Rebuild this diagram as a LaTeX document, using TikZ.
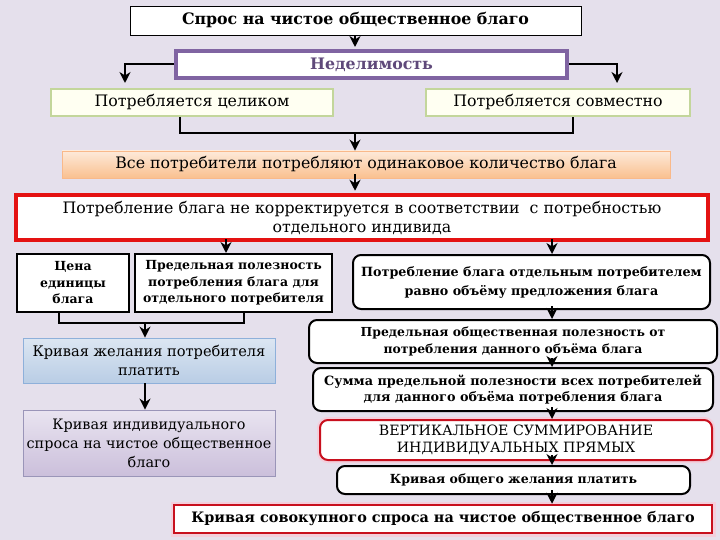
\documentclass[tikz,border=0pt]{standalone}
\usepackage{fontspec}
\setmainfont{DejaVu Serif}
\usetikzlibrary{arrows.meta}
\definecolor{bg}{HTML}{E5E0EC}
\definecolor{purp}{HTML}{8064A2}
\definecolor{purptext}{HTML}{5F497A}
\definecolor{olive}{HTML}{C3D69B}
\definecolor{ivory}{HTML}{FFFFF2}
\definecolor{orL}{HTML}{FDEADA}
\definecolor{orD}{HTML}{FAC08F}
\definecolor{orB}{HTML}{F9B98A}
\definecolor{blL}{HTML}{DCE6F2}
\definecolor{blD}{HTML}{B9CDE5}
\definecolor{blB}{HTML}{8EB0DA}
\definecolor{puL}{HTML}{E9E4F0}
\definecolor{puD}{HTML}{CBBFDB}
\definecolor{puB}{HTML}{9A95B8}
\definecolor{redB}{HTML}{E41212}
\definecolor{redD}{HTML}{C8101E}
\definecolor{glow}{HTML}{F3CFDC}
\tikzset{
  boxbase/.style={align=center, inner sep=1pt, text=black},
  plainbox/.style={boxbase, draw=black, line width=0.8pt, fill=white},
  purpbox/.style={boxbase, draw=purp, line width=4pt, fill=white, text=purptext},
  ivorybox/.style={boxbase, draw=olive, line width=2pt, fill=ivory},
  orangebox/.style={boxbase, draw=orB, line width=0.8pt, top color=orL, bottom color=orD},
  redbox/.style={boxbase, draw=redB, line width=4.5pt, fill=white},
  sqbox/.style={boxbase, draw=black, line width=2pt, fill=white},
  roundbox/.style={boxbase, draw=black, line width=2pt, fill=white, rounded corners=8pt},
  redround/.style={boxbase, draw=redD, line width=2pt, fill=white, rounded corners=8pt, preaction={draw=glow, line width=6pt}},
  redsq/.style={boxbase, draw=redD, line width=2.5pt, fill=white, preaction={draw=glow, line width=7pt}},
  bluebox/.style={boxbase, draw=blB, line width=0.8pt, top color=blL, bottom color=blD},
  lilabox/.style={boxbase, draw=puB, line width=0.8pt, top color=puL, bottom color=puD},
  arr/.style={line width=2pt, -{Stealth[length=11pt,width=11pt]}},
  bracket/.style={line width=1.6pt},
}
\begin{document}
\begin{tikzpicture}[x=1pt,y=-1pt]
\path[use as bounding box, fill=bg] (0,0) rectangle (720,540);

% top part
\node[plainbox, font=\bfseries\fontsize{15.8}{18}\selectfont, minimum width=451pt, minimum height=29pt] (top) at (355.5,20.5) {Спрос на чистое общественное благо};
\node[purpbox, font=\bfseries\fontsize{15.8}{18}\selectfont, minimum width=391pt, minimum height=27pt] (nedel) at (371.5,64.5) {Неделимость};
\node[ivorybox, font=\fontsize{15.8}{18}\selectfont, minimum width=282pt, minimum height=27pt] (celikom) at (192,102.5) {Потребляется целиком};
\node[ivorybox, font=\fontsize{15.8}{18}\selectfont, minimum width=264pt, minimum height=27pt] (sovm) at (558,102.5) {Потребляется совместно};
\node[orangebox, font=\fontsize{15.8}{18}\selectfont, minimum width=608pt, minimum height=27pt] (vse) at (366,164.5) {Все потребители потребляют одинаковое количество блага};
\node[redbox, font=\fontsize{15.8}{19}\selectfont, minimum width=692pt, minimum height=45pt] (red) at (362,217.5) {Потребление блага не корректируется в соответствии \ с потребностью\\отдельного индивида};

% left column
\node[sqbox, font=\bfseries\fontsize{12.5}{16.5}\selectfont, minimum width=112pt, minimum height=58pt] (cena) at (73,283) {Цена\\единицы\\блага};
\node[sqbox, font=\bfseries\fontsize{12.5}{16.5}\selectfont, minimum width=197pt, minimum height=58pt] (predp) at (233.5,283) {Предельная полезность\\потребления блага для\\отдельного потребителя};
\node[bluebox, font=\fontsize{14.6}{19}\selectfont, minimum width=252pt, minimum height=45pt] (zhel) at (149,360.5) {Кривая желания потребителя\\платить};
\node[lilabox, font=\fontsize{14.4}{19}\selectfont, minimum width=252pt, minimum height=66pt] (indiv) at (149,443) {Кривая индивидуального\\спроса на чистое общественное\\благо};

% right column
\node[roundbox, font=\bfseries\fontsize{12.7}{19}\selectfont, minimum width=357pt, minimum height=54pt] (potr) at (531.5,282) {Потребление блага отдельным потребителем\\равно объёму предложения блага};
\node[roundbox, font=\bfseries\fontsize{12.4}{17}\selectfont, minimum width=408pt, minimum height=43pt] (obsch) at (513,341.5) {Предельная общественная полезность от\\потребления данного объёма блага};
\node[roundbox, font=\bfseries\fontsize{12.8}{16}\selectfont, minimum width=400pt, minimum height=43pt] (summa) at (513,389.5) {Сумма предельной полезности всех потребителей\\для данного объёма потребления блага};
\node[redround, font=\fontsize{14.2}{17}\selectfont, minimum width=392pt, minimum height=40pt] (vert) at (516,440) {ВЕРТИКАЛЬНОЕ СУММИРОВАНИЕ\\ИНДИВИДУАЛЬНЫХ ПРЯМЫХ};
\node[roundbox, font=\bfseries\fontsize{12.5}{14}\selectfont, minimum width=353pt, minimum height=28pt] (obzh) at (513.5,480) {Кривая общего желания платить};
\node[redsq, font=\bfseries\fontsize{14.4}{16}\selectfont, minimum width=538pt, minimum height=28pt] (sovok) at (443,519) {Кривая совокупного спроса на чистое общественное благо};

% helper coordinates
\coordinate (cTop) at (355,0);
\coordinate (lTip) at (125,83);
\coordinate (rTip) at (617,83);
\coordinate (j1) at (355,133);
\coordinate (cL) at (226,0);
\coordinate (cR) at (552,0);
\coordinate (j2) at (145,323);

% connectors
\draw[arr] (top.south -| cTop) -- ([yshift=2pt]nedel.north -| cTop);
\draw[arr] (nedel.west) -| (lTip);
\draw[arr] (nedel.east) -| (rTip);
\draw[bracket] ([xshift=-12pt]celikom.south) |- (j1) -| ([xshift=15pt]sovm.south);
\draw[arr] (j1) -- (vse.north -| j1);
\draw[arr] ([yshift=4pt]vse.south -| j1) -- ([yshift=2pt]red.north -| j1);
\draw[arr] ([yshift=3pt]red.south -| cL) -- (predp.north -| cL);
\draw[arr] ([yshift=3pt]red.south -| cR) -- (potr.north -| cR);
\draw[bracket] ([xshift=-14pt]cena.south) |- (j2) -| ([xshift=10.5pt]predp.south);
\draw[arr] (j2) -- (zhel.north -| j2);
\draw[arr] (zhel.south -| j2) -- (indiv.north -| j2);
\draw[arr] ([yshift=4pt]potr.south -| cR) -- (obsch.north -| cR);
\draw[arr] ([yshift=6pt]obsch.south -| cR) -- (summa.north -| cR);
\draw[arr] ([yshift=5pt]summa.south -| cR) -- (vert.north -| cR);
\draw[arr] ([yshift=6pt]vert.south -| cR) -- (obzh.north -| cR);
\draw[arr] ([yshift=5pt]obzh.south -| cR) -- (sovok.north -| cR);
\end{tikzpicture}
\end{document}
